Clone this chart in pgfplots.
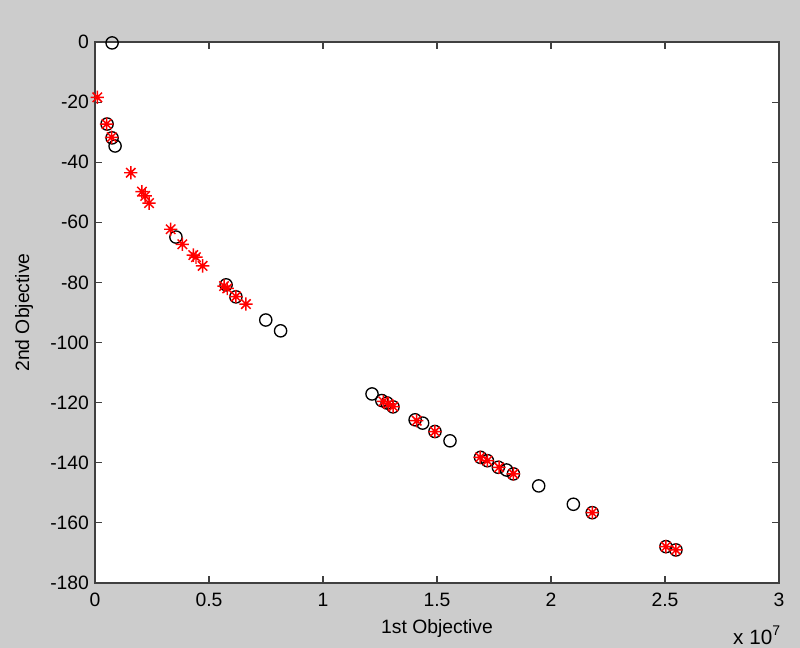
\documentclass[border=0pt]{standalone}
\usepackage{pgfplots}
\pgfplotsset{compat=1.18}
\usepackage{fontspec}
\setmainfont{Liberation Sans}
\definecolor{figgray}{RGB}{204,204,204}
\definecolor{axgray}{RGB}{64,64,64}
\pgfdeclareplotmark{mstar}{%
  \pgfpathmoveto{\pgfqpoint{-\pgfplotmarksize}{0pt}}\pgfpathlineto{\pgfqpoint{\pgfplotmarksize}{0pt}}%
  \pgfpathmoveto{\pgfqpoint{0pt}{-\pgfplotmarksize}}\pgfpathlineto{\pgfqpoint{0pt}{\pgfplotmarksize}}%
  \pgfpathmoveto{\pgfqpoint{-0.707\pgfplotmarksize}{-0.707\pgfplotmarksize}}\pgfpathlineto{\pgfqpoint{0.707\pgfplotmarksize}{0.707\pgfplotmarksize}}%
  \pgfpathmoveto{\pgfqpoint{-0.707\pgfplotmarksize}{0.707\pgfplotmarksize}}\pgfpathlineto{\pgfqpoint{0.707\pgfplotmarksize}{-0.707\pgfplotmarksize}}%
  \pgfusepathqstroke}
\begin{document}
\begin{tikzpicture}
\fill[figgray] (-71.25bp,-48.75bp) rectangle (528.75bp,437.25bp);
\begin{axis}[
  at={(0,0)}, anchor=south west,
  scale only axis, width=513bp, height=405.75bp,
  xmin=0, xmax=3, ymin=-180, ymax=0,
  xtick={0,0.5,1,1.5,2,2.5,3},
  xticklabels={0,0.5,1,1.5,2,2.5,3},
  ytick={-180,-160,-140,-120,-100,-80,-60,-40,-20,0},
  tick align=inside, tick pos=both,
  major tick length=5bp,
  axis line style={axgray, line width=0.9bp},
  every tick/.style={axgray, line width=0.8bp},
  axis background/.style={fill=white},
  /pgf/number format/assume math mode=true,
  ticklabel style={font=\fontsize{14.5bp}{17bp}\selectfont, text=black},
  xticklabel style={yshift=-4bp},
  yticklabel style={xshift=-1bp},
  label style={font=\fontsize{14.5bp}{17bp}\selectfont},
  xlabel={1st Objective},
  ylabel={2nd Objective},
  xlabel style={yshift=-3bp},
  ylabel style={yshift=6bp},
  clip=false,
]
\addplot[only marks, mark=o, mark size=4.6bp, mark options={draw=black, line width=1bp}] coordinates {
(0.075,-0.3) (0.053,-27.3) (0.075,-31.9) (0.088,-34.6) (0.355,-64.9)
(0.575,-80.8) (0.618,-84.8) (0.749,-92.5) (0.814,-96.1)
(1.215,-117.1) (1.258,-119.3) (1.281,-120.1) (1.307,-121.4)
(1.404,-125.7) (1.437,-126.8) (1.491,-129.6) (1.557,-132.7)
(1.691,-138.2) (1.721,-139.3) (1.769,-141.5) (1.805,-142.4) (1.835,-143.7)
(1.946,-147.7) (2.098,-153.8) (2.181,-156.6) (2.504,-167.9) (2.548,-169.0)
};
\addplot[only marks, mark=mstar, mark size=5bp, mark options={draw=red, line width=1.1bp}] coordinates {
(0.010,-18.4) (0.051,-27.3) (0.073,-31.7) (0.157,-43.5)
(0.206,-49.8) (0.220,-51.2) (0.237,-53.6)
(0.332,-62.3) (0.383,-67.3) (0.431,-70.9) (0.443,-71.6) (0.472,-74.5)
(0.566,-81.2) (0.580,-82.0) (0.618,-84.7) (0.662,-87.2)
(1.265,-119.6) (1.287,-120.4) (1.308,-121.3) (1.411,-126.0) (1.491,-129.6)
(1.689,-138.2) (1.721,-139.3) (1.772,-141.5) (1.835,-143.7)
(2.181,-156.6) (2.504,-167.9) (2.548,-169.0)
};
\node[anchor=base east, font=\fontsize{15.5bp}{18bp}\selectfont, inner sep=0pt] at (rel axis cs:1,0) [yshift=-46bp, xshift=1bp] {x 10\raisebox{7bp}{\fontsize{10.5bp}{12bp}\selectfont 7}};
\end{axis}
\pgfresetboundingbox
\path (-71.25bp,-48.75bp) rectangle (528.75bp,437.25bp);
\end{tikzpicture}
\end{document}
